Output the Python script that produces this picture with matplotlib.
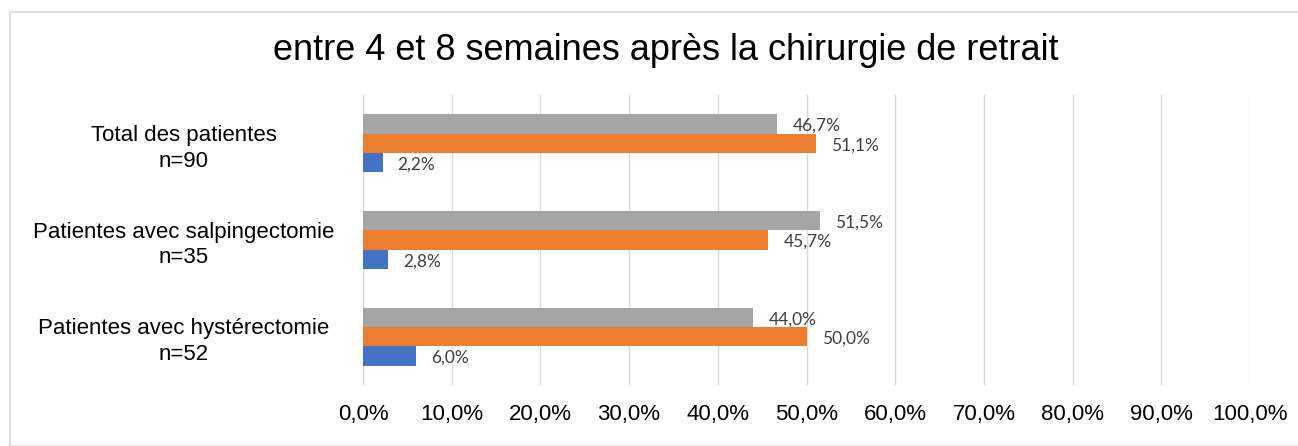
import numpy as np
import matplotlib.pyplot as plt
from matplotlib.patches import Rectangle

categories = ["Total des patientes\nn=90",
              "Patientes avec salpingectomie\nn=35",
              "Patientes avec hystérectomie\nn=52"]
blue_vals = [2.2, 2.8, 6.0]
orange_vals = [51.1, 45.7, 50.0]
gray_vals = [46.7, 51.5, 44.0]
xticks = np.arange(0, 101, 10)

fig = plt.figure(figsize=(12.98, 4.46), dpi=100)
fig.patches.append(Rectangle((10 / 1298, 0), 1.0, 1 - 12 / 446, transform=fig.transFigure,
                             fill=False, edgecolor="#d9d9d9", linewidth=1.2))
ax = fig.add_axes([363 / 1298, 61 / 446, 887 / 1298, 290 / 446])

y = np.arange(len(categories))
h = 0.2
series = [(gray_vals, "#a5a5a5", -h), (orange_vals, "#ed7d31", 0), (blue_vals, "#4472c4", h)]
for vals, col, off in series:
    ax.barh(y + off, vals, height=h, color=col, zorder=3)
    for yi, v in zip(y + off, vals):
        ax.text(v + 1.7, yi + 0.02, ("%.1f%%" % v).replace(".", ","), va="center", ha="left",
                fontsize=12.5, color="#404040", family="Lato")

ax.set_ylim(2.5, -0.5)
ax.set_xlim(0, 100)
ax.set_xticks(xticks)
ax.set_xticklabels([("%.1f%%" % t).replace(".", ",") for t in xticks],
                   fontsize=16, family="Liberation Sans")
ax.set_yticks(y)
ax.set_yticklabels(categories, fontsize=16, family="Liberation Sans", ha="center",
                   linespacing=1.3)
ax.tick_params(axis="y", length=0, pad=129)
ax.tick_params(axis="x", length=0, pad=14)
ax.grid(axis="x", color="#d9d9d9", linewidth=1, zorder=0)
for s in ax.spines.values():
    s.set_visible(False)
ax.axvline(0, color="#d9d9d9", linewidth=1, zorder=0)

fig.text(666 / 1298, 1 - 51 / 446, "entre 4 et 8 semaines après la chirurgie de retrait",
         ha="center", va="center", fontsize=26, family="Liberation Sans")

fig.savefig("out.png", dpi=100)
